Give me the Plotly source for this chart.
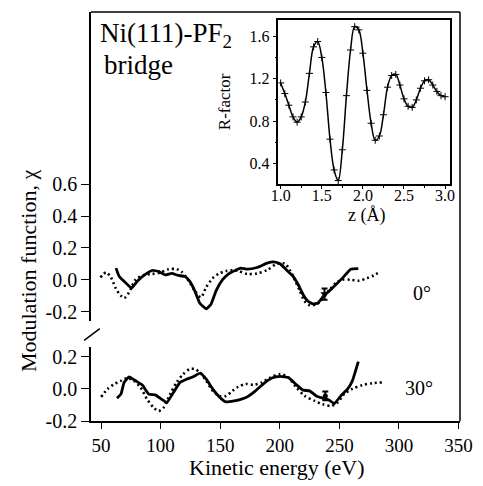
import plotly.graph_objects as go

# ---------------- data ----------------
# 0 deg panel
ev_0_dot = [49.6, 54.3, 58.4, 62.6, 66.7, 69.5, 73.5, 79, 86, 92.8, 99.8, 106.6, 113.5, 117.6, 123,
            128.7, 133.9, 138, 143.8, 149.3, 154.8, 160.3, 165.0, 172.7, 181, 189.3, 197.5, 204.4,
            208.5, 212.6, 216.8, 220.9, 225, 230.6, 236, 241.6, 247.1, 252.6, 259.5, 266.4, 273.3,
            278.8, 283.5]
chi_0_dot = [0.014, 0.046, 0.014, -0.057, -0.1, -0.115, -0.08, 0.0, 0.03, 0.036, 0.045, 0.066,
             0.066, 0.05, 0.0, -0.07, -0.11, -0.05, 0.01, 0.04, 0.055, 0.06, 0.055, 0.036, 0.04,
             0.06, 0.1, 0.1, 0.06, 0.0, -0.07, -0.135, -0.16, -0.155, -0.12, -0.065, -0.02, 0.0,
             0.0, -0.006, 0.01, 0.027, 0.048]
ev_0_sol = [62.6, 65.3, 70.8, 75.5, 80.4, 86, 92.8, 98.3, 103.9, 109.3, 114.9, 120.4, 124.5, 128.7,
            132.8, 138.3, 142.4, 146.5, 152, 157.6, 163, 167.2, 172.7, 181, 189.3, 194.8, 200.2,
            205.8, 211.3, 215.4, 219.6, 223.7, 227.9, 232, 236.6, 241.6, 247.1, 252.6, 259.5, 265.9]
chi_0_sol = [0.073, 0.02, -0.02, -0.052, -0.01, 0.027, 0.058, 0.052, 0.03, 0.04, 0.027, 0.02,
             -0.01, -0.07, -0.146, -0.183, -0.152, -0.07, 0.0, 0.04, 0.06, 0.073, 0.066, 0.077,
             0.104, 0.112, 0.1, 0.06, 0.02, -0.03, -0.094, -0.135, -0.152, -0.146, -0.104, -0.07,
             -0.03, 0.01, 0.066, 0.07]
err_0_ev = [237.5]
err_0_chi = [-0.09]
err_0_size = [0.035]

# 30 deg panel
ev_30_dot = [50.1, 55.6, 61.2, 66.7, 72.2, 77.7, 83.2, 88.7, 94.2, 98.3, 102.5, 108, 113.5, 119,
             124.5, 128.7, 132.8, 138.3, 143.8, 149.3, 154.8, 160.3, 165, 171.3, 178.3, 185.1,
             192, 200.2, 207.2, 214, 220.9, 229.2, 236.1, 243, 248.5, 254, 260.9, 269.2, 277.5,
             285.7]
chi_30_dot = [-0.05, 0.0, 0.03, 0.05, 0.067, 0.05, 0.008, -0.065, -0.117, -0.1375, -0.117,
              -0.033, 0.04, 0.092, 0.123, 0.123, 0.102, 0.05, -0.0125, -0.044, -0.044, -0.0125,
              0.012, 0.03, 0.025, 0.04, 0.07, 0.092, 0.07, 0.008, -0.044, -0.075, -0.096, -0.106,
              -0.085, -0.033, 0.0, 0.023, 0.035, 0.04]
ev_30_sol = [63.4, 66.7, 69.4, 73.6, 79, 84.5, 90, 95.6, 101, 105.2, 110.7, 116.3, 121.7, 127.3,
             133.3, 138.3, 143.8, 149.3, 154.8, 161.7, 167.2, 172.7, 179.6, 186.5, 193.4, 200.2,
             207.2, 214, 219.6, 225, 230.6, 236.1, 241.6, 245.7, 251.2, 256.8, 260.9, 263.6, 265.9]
chi_30_sol = [-0.058, -0.033, 0.04, 0.075, 0.05, 0.025, -0.033, -0.0375, -0.065, -0.085, -0.023,
              0.04, 0.06, 0.075, 0.098, 0.06, -0.002, -0.05, -0.081, -0.075, -0.065, -0.05,
              -0.0125, 0.033, 0.067, 0.077, 0.07, 0.025, -0.008, -0.0125, -0.044, -0.058, -0.071,
              -0.092, -0.044, -0.002, 0.05, 0.1125, 0.17]
err_30_ev = [238.2]
err_30_chi = [-0.044]
err_30_size = [0.027]

# inset: R-factor vs z
z_vals = [1.00, 1.05, 1.10, 1.15, 1.20, 1.25, 1.30, 1.35, 1.40, 1.45, 1.50, 1.55, 1.60, 1.65,
          1.70, 1.75, 1.80, 1.85, 1.90, 1.95, 2.00, 2.05, 2.10, 2.15, 2.20, 2.25, 2.30, 2.35,
          2.40, 2.45, 2.50, 2.55, 2.60, 2.65, 2.70, 2.75, 2.80, 2.85, 2.90, 2.95, 3.00]
r_vals = [1.16, 1.06, 0.95, 0.84, 0.79, 0.84, 0.98, 1.25, 1.50, 1.55, 1.40, 1.07, 0.63, 0.34,
          0.24, 0.53, 1.04, 1.47, 1.69, 1.66, 1.44, 1.09, 0.78, 0.62, 0.66, 0.86, 1.12, 1.23,
          1.24, 1.14, 1.01, 0.94, 0.93, 1.00, 1.11, 1.18, 1.19, 1.14, 1.08, 1.04, 1.03]

x_ticks = [50, 100, 150, 200, 250, 300, 350]
y_up_ticks = [-0.2, 0.0, 0.2, 0.4, 0.6]
y_up_text = ["-0.2", "0.0", "0.2", "0.4", "0.6"]
y_lo_ticks = [-0.2, 0.0, 0.2]
y_lo_text = ["-0.2", "0.0", "0.2"]
z_ticks = [1.0, 1.5, 2.0, 2.5, 3.0]
z_text = ["1.0", "1.5", "2.0", "2.5", "3.0"]
r_ticks = [0.4, 0.8, 1.2, 1.6]
r_text = ["0.4", "0.8", "1.2", "1.6"]

# ---------------- figure ----------------
FONT = "Liberation Serif, Times New Roman, serif"
fig = go.Figure()

dot_line = dict(color="black", width=2.6, dash="2px,3px", shape="spline", smoothing=0.8)
sol_line = dict(color="black", width=2.8, shape="spline", smoothing=0.4)

fig.add_trace(go.Scatter(x=ev_0_dot, y=chi_0_dot, mode="lines", line=dot_line, xaxis="x", yaxis="y"))
fig.add_trace(go.Scatter(x=ev_0_sol, y=chi_0_sol, mode="lines", line=sol_line, xaxis="x", yaxis="y"))
fig.add_trace(go.Scatter(x=err_0_ev, y=err_0_chi, mode="markers",
                         marker=dict(symbol="triangle-down", size=7, color="black"),
                         error_y=dict(type="data", array=err_0_size, color="black", thickness=2, width=3),
                         xaxis="x", yaxis="y"))
fig.add_trace(go.Scatter(x=ev_30_dot, y=chi_30_dot, mode="lines", line=dot_line, xaxis="x", yaxis="y2"))
fig.add_trace(go.Scatter(x=ev_30_sol, y=chi_30_sol, mode="lines", line=sol_line, xaxis="x", yaxis="y2"))
fig.add_trace(go.Scatter(x=err_30_ev, y=err_30_chi, mode="markers",
                         marker=dict(symbol="circle", size=5, color="black"),
                         error_y=dict(type="data", array=err_30_size, color="black", thickness=2, width=3),
                         xaxis="x", yaxis="y2"))
fig.add_trace(go.Scatter(x=z_vals, y=r_vals, mode="lines+markers",
                         line=dict(color="black", width=1.5, shape="spline", smoothing=1.0),
                         marker=dict(symbol="cross-thin", size=5, line=dict(color="black", width=1)),
                         xaxis="x3", yaxis="y3"))

tickfont = dict(family=FONT, size=19, color="black")
common = dict(showgrid=False, zeroline=False, showline=True, linecolor="black", linewidth=1.5,
              ticks="outside", tickcolor="black", tickwidth=1.2)

fig.update_layout(
    width=483, height=486,
    margin=dict(l=91, r=16, t=10, b=65),
    paper_bgcolor="white", plot_bgcolor="white",
    showlegend=False,
    font=dict(family=FONT, color="black"),
    xaxis=dict(domain=[0, 1], anchor="y2", range=[41.6, 351.2], tickvals=x_ticks,
               ticklen=6, tickfont=tickfont, **common),
    yaxis=dict(domain=[0.2457, 1], anchor="x", range=[-0.256, 1.681], tickvals=y_up_ticks,
               ticktext=y_up_text, ticklen=8, tickfont=dict(family=FONT, size=20, color="black"),
               **common),
    yaxis2=dict(domain=[0, 0.180], anchor="x", range=[-0.2, 0.258], tickvals=y_lo_ticks,
                ticktext=y_lo_text, ticklen=8, tickfont=dict(family=FONT, size=20, color="black"),
                **common),
    xaxis3=dict(domain=[0.508, 0.973], anchor="y3", range=[0.973, 3.06], tickvals=z_ticks,
                ticktext=z_text, ticklen=3, mirror=True, ticklabelstandoff=-7,
                tickfont=dict(family=FONT, size=16, color="black"),
                minor=dict(ticks="outside", ticklen=2, tickcolor="black", dtick=0.25), **common),
    yaxis3=dict(domain=[0.579, 0.9805], anchor="x3", range=[0.206, 1.753], tickvals=r_ticks,
                ticktext=r_text, ticklen=4, mirror=True,
                tickfont=dict(family=FONT, size=16, color="black"),
                minor=dict(ticks="outside", ticklen=2, tickcolor="black", dtick=0.2), **common),
)

# frame: top and right border, axis break mark
fig.add_shape(type="line", xref="paper", yref="paper", x0=0, x1=1, y0=1, y1=1,
              line=dict(color="black", width=1.5))
fig.add_shape(type="line", xref="paper", yref="paper", x0=1, x1=1, y0=0, y1=1,
              line=dict(color="black", width=1.5))
fig.add_shape(type="line", xref="paper", yref="paper", x0=-0.0186, x1=0.0239, y0=0.197, y1=0.226,
              line=dict(color="black", width=1.5))

ann = [
    dict(text="Ni(111)-PF<sub>2</sub>", x=0.0186, y=0.944, xanchor="left", yanchor="middle",
         font=dict(size=27)),
    dict(text="bridge", x=0.029, y=0.871, xanchor="left", yanchor="middle", font=dict(size=27)),
    dict(text="0°", x=0.896, y=0.314, xanchor="center", yanchor="middle", font=dict(size=20)),
    dict(text="30°", x=0.888, y=0.080, xanchor="center", yanchor="middle", font=dict(size=20)),
    dict(text="Modulation function, χ", x=-0.1676, y=0.367, textangle=-90,
         xanchor="center", yanchor="middle", font=dict(size=22)),
    dict(text="Kinetic energy (eV)", x=0.503, y=-0.114, xanchor="center", yanchor="middle",
         font=dict(size=22)),
    dict(text="R-factor", x=0.362, y=0.781, textangle=-90, xanchor="center", yanchor="middle",
         font=dict(size=17)),
    dict(text="z (Å)", x=0.747, y=0.503, xanchor="center", yanchor="middle", font=dict(size=18)),
]
for a in ann:
    a.update(xref="paper", yref="paper", showarrow=False)
    a["font"] = dict(family=FONT, color="black", **a["font"])
    fig.add_annotation(**a)

fig.write_html("out.html", config={"displayModeBar": False},
               post_script="document.body.style.margin='0';document.body.style.overflow='hidden';")
